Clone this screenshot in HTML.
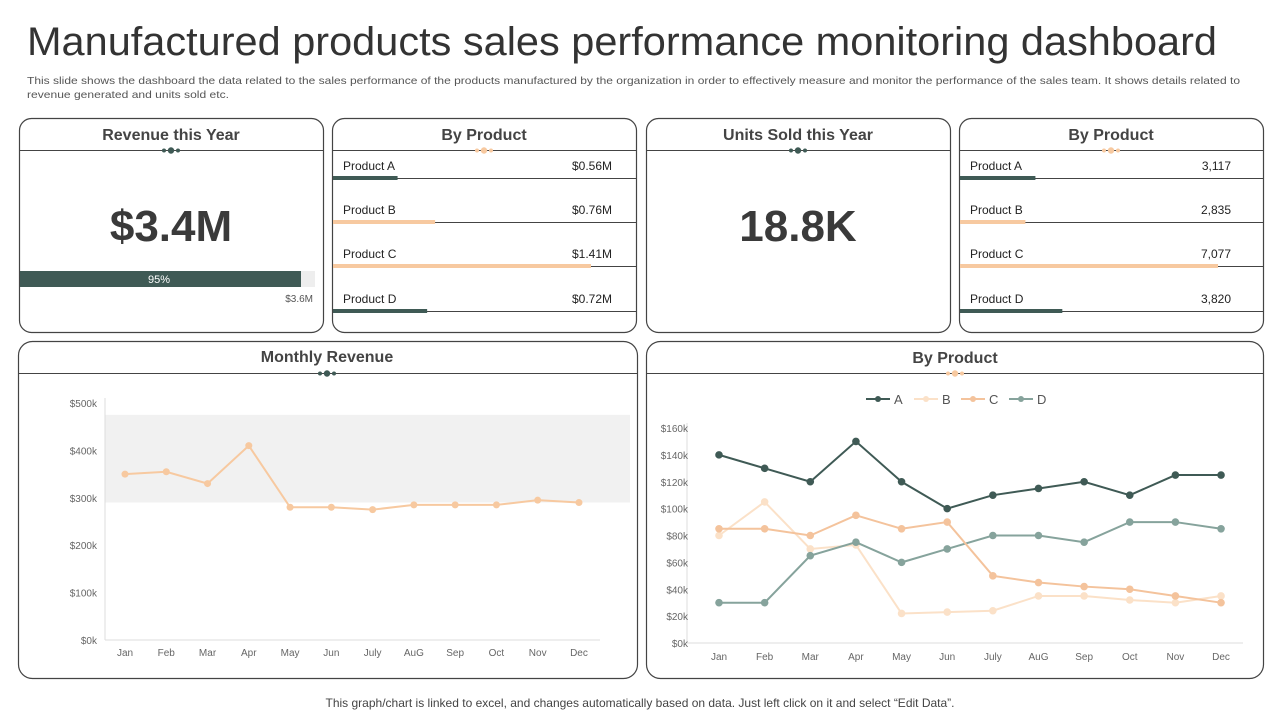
<!DOCTYPE html>
<html><head><meta charset="utf-8"><style>
html,body{margin:0;padding:0;background:#fff;}
svg{display:block;font-family:"Liberation Sans",sans-serif;}
</style></head><body>
<svg id="root" width="1280" height="720" viewBox="0 0 1280 720" xmlns="http://www.w3.org/2000/svg">
<text x="27" y="55" font-size="40" fill="#333" textLength="1190" lengthAdjust="spacingAndGlyphs" font-weight="300">Manufactured products sales performance monitoring dashboard</text>
<text x="27" y="84" font-size="10.5" fill="#555" textLength="1213" lengthAdjust="spacingAndGlyphs">This slide shows the dashboard the data related to the sales performance of the products manufactured by the organization in order to  effectively measure and monitor the performance of the sales team. It shows details related to</text>
<text x="27" y="98" font-size="10.5" fill="#555" textLength="202" lengthAdjust="spacingAndGlyphs">revenue generated and units sold etc.</text>

<g>
<rect x="19.5" y="118.5" width="304" height="214" rx="12" fill="#fff" stroke="#444" stroke-width="1.2"/>
<text x="171" y="140" font-size="16" font-weight="bold" fill="#444" text-anchor="middle">Revenue this Year</text>
<line x1="19.5" y1="150.5" x2="323.5" y2="150.5" stroke="#444"/>
<circle cx="164" cy="150.5" r="2" fill="#3f5a55"/><circle cx="171" cy="150.5" r="3.2" fill="#3f5a55"/><circle cx="178" cy="150.5" r="2" fill="#3f5a55"/>
<text x="171" y="241" font-size="44" font-weight="bold" fill="#3a3a3a" text-anchor="middle">$3.4M</text>
<rect x="20" y="271" width="295" height="16" fill="#eeeeee"/>
<rect x="20" y="271" width="281" height="16" fill="#3f5a55"/>
<text x="159" y="283" font-size="11" fill="#fff" text-anchor="middle">95%</text>
<text x="313" y="302" font-size="10" fill="#555" text-anchor="end">$3.6M</text>
</g>

<g>
<rect x="332.5" y="118.5" width="304" height="214" rx="12" fill="#fff" stroke="#444" stroke-width="1.2"/>
<text x="484" y="140" font-size="16" font-weight="bold" fill="#444" text-anchor="middle">By Product</text>
<line x1="332.5" y1="150.5" x2="636.5" y2="150.5" stroke="#444"/>
<circle cx="477" cy="150.5" r="2" fill="#f7c9a0"/><circle cx="484" cy="150.5" r="3.2" fill="#f7c9a0"/><circle cx="491" cy="150.5" r="2" fill="#f7c9a0"/>
<g id="revRows"></g>
</g>

<g>
<rect x="646.5" y="118.5" width="304" height="214" rx="12" fill="#fff" stroke="#444" stroke-width="1.2"/>
<text x="798" y="140" font-size="16" font-weight="bold" fill="#444" text-anchor="middle">Units Sold this Year</text>
<line x1="646.5" y1="150.5" x2="950.5" y2="150.5" stroke="#444"/>
<circle cx="791" cy="150.5" r="2" fill="#3f5a55"/><circle cx="798" cy="150.5" r="3.2" fill="#3f5a55"/><circle cx="805" cy="150.5" r="2" fill="#3f5a55"/>
<text x="798" y="241" font-size="44" font-weight="bold" fill="#3a3a3a" text-anchor="middle">18.8K</text>
</g>

<g>
<rect x="959.5" y="118.5" width="304" height="214" rx="12" fill="#fff" stroke="#444" stroke-width="1.2"/>
<text x="1111" y="140" font-size="16" font-weight="bold" fill="#444" text-anchor="middle">By Product</text>
<line x1="959.5" y1="150.5" x2="1263.5" y2="150.5" stroke="#444"/>
<circle cx="1104" cy="150.5" r="2" fill="#f7c9a0"/><circle cx="1111" cy="150.5" r="3.2" fill="#f7c9a0"/><circle cx="1118" cy="150.5" r="2" fill="#f7c9a0"/>
<g id="unitRows"></g>
</g>

<g>
<rect x="18.5" y="341.5" width="619" height="337" rx="14" fill="#fff" stroke="#444" stroke-width="1.2"/>
<text x="327" y="362" font-size="16" font-weight="bold" fill="#444" text-anchor="middle">Monthly Revenue</text>
<line x1="18.5" y1="373.5" x2="637.5" y2="373.5" stroke="#444"/>
<circle cx="320" cy="373.5" r="2" fill="#3f5a55"/><circle cx="327" cy="373.5" r="3.2" fill="#3f5a55"/><circle cx="334" cy="373.5" r="2" fill="#3f5a55"/>
<g id="mrChart"></g>
</g>

<g>
<rect x="646.5" y="341.5" width="617" height="337" rx="14" fill="#fff" stroke="#444" stroke-width="1.2"/>
<text x="955" y="363" font-size="16" font-weight="bold" fill="#444" text-anchor="middle">By Product</text>
<line x1="646.5" y1="373.5" x2="1263.5" y2="373.5" stroke="#444"/>
<circle cx="948" cy="373.5" r="2" fill="#f7c9a0"/><circle cx="955" cy="373.5" r="3.2" fill="#f7c9a0"/><circle cx="962" cy="373.5" r="2" fill="#f7c9a0"/>
<g id="ptChart"></g>
</g>

<text x="640" y="707" font-size="12" fill="#444" text-anchor="middle">This graph/chart is linked to excel, and changes automatically based on data. Just left click on it and select “Edit Data”.</text>
</svg>
<script>
const NS="http://www.w3.org/2000/svg";
function mk(parent,tag,attrs,txt){const e=document.createElementNS(NS,tag);for(const k in attrs)e.setAttribute(k,attrs[k]);if(txt!==undefined)e.textContent=txt;parent.appendChild(e);return e;}

const productNames=["Product A","Product B","Product C","Product D"];
const revenueValues=[0.56,0.76,1.41,0.72];
const revenueLabels=["$0.56M","$0.76M","$1.41M","$0.72M"];
const unitValues=[3117,2835,7077,3820];
const unitLabels=["3,117","2,835","7,077","3,820"];
const months=["Jan","Feb","Mar","Apr","May","Jun","July","AuG","Sep","Oct","Nov","Dec"];
const monthlyRevenue=[350,355,330,410,280,280,275,285,285,285,295,290];
const mrTicks=["$0k","$100k","$200k","$300k","$400k","$500k"];
const bandLow=290, bandHigh=475;
const seriesNames=["A","B","C","D"];
const seriesA=[140,130,120,150,120,100,110,115,120,110,125,125];
const seriesB=[80,105,70,73,22,23,24,35,35,32,30,35];
const seriesC=[85,85,80,95,85,90,50,45,42,40,35,30];
const seriesD=[30,30,65,75,60,70,80,80,75,90,90,85];
const ptTicks=["$0k","$20k","$40k","$60k","$80k","$100k","$120k","$140k","$160k"];

const colors=["#3f5a55","#f7c9a0","#f7c9a0","#3f5a55"];

function rows(g,x0,x1,vals,labels,maxBarW,labelX,valX){
  const rowY=[178,222,266,311];
  const mx=Math.max(...vals);
  vals.forEach((v,i)=>{
    const y=rowY[i];
    const t=mk(g,"text",{x:labelX,y:y-8,"font-size":12,fill:"#222"},productNames[i]);
    
    
    const vt=mk(g,"text",{x:valX,y:y-8,"font-size":12,fill:"#222","text-anchor":"end"},labels[i]);
    
    
    mk(g,"line",{x1:x0,y1:y+0.5,x2:x1,y2:y+0.5,stroke:"#444","stroke-width":1});
    const b=mk(g,"rect",{x:x0,y:y-2,width:Math.pow(v/mx,1.5)*maxBarW,height:4,fill:colors[i]});
    
    
  });
}
rows(document.getElementById("revRows"),333,637,revenueValues,revenueLabels,258,343,612);
rows(document.getElementById("unitRows"),960,1264,unitValues,unitLabels,258,970,1231);

(function(){
  const g=document.getElementById("mrChart");
  const L=105,R=600,T=403,B=640,maxV=500;
  const y=v=>B-(v/maxV)*(B-T);
  const x=i=>125+i*41.27;
  const band=mk(g,"rect",{x:L,y:y(bandHigh),width:525,height:y(bandLow)-y(bandHigh),fill:"#f1f1f1"});
  
  
  mk(g,"line",{x1:L,y1:T-5,x2:L,y2:B,stroke:"#ddd"});
  mk(g,"line",{x1:L,y1:B,x2:R,y2:B,stroke:"#ddd"});
  mrTicks.forEach((t,i)=>{const e=mk(g,"text",{x:97,y:y(i*100)+4,"font-size":10,fill:"#666","text-anchor":"end"},t);
    
    });
  months.forEach((m,i)=>{const e=mk(g,"text",{x:x(i),y:656,"font-size":10,fill:"#666","text-anchor":"middle"},m);
    
    });
  const pl=mk(g,"polyline",{points:monthlyRevenue.map((v,i)=>x(i)+","+y(v)).join(" "),fill:"none",stroke:"#f7c9a0","stroke-width":2});
  
  
  monthlyRevenue.forEach((v,i)=>{const c=mk(g,"circle",{cx:x(i),cy:y(v),r:3.5,fill:"#f7c9a0"});
    
    });
})();

(function(){
  const g=document.getElementById("ptChart");
  const L=687,R=1243,T=428,B=643,maxV=160;
  const y=v=>B-(v/maxV)*(B-T);
  const x=i=>719+i*45.64;
  mk(g,"line",{x1:L,y1:T-5,x2:L,y2:B,stroke:"#ddd"});
  mk(g,"line",{x1:L,y1:B,x2:R,y2:B,stroke:"#ddd"});
  ptTicks.forEach((t,i)=>{const e=mk(g,"text",{x:688,y:y(i*20)+4,"font-size":10,fill:"#666","text-anchor":"end"},t);
    
    });
  months.forEach((m,i)=>{const e=mk(g,"text",{x:x(i),y:660,"font-size":10,fill:"#666","text-anchor":"middle"},m);
    
    });
  const data=[seriesA,seriesB,seriesC,seriesD];
  const cols=["#3f5a55","#fbe1c8","#f4c39c","#86a39c"];
  const order=[1,3,2,0];
  order.forEach(s=>{
    const pl=mk(g,"polyline",{points:data[s].map((v,i)=>x(i)+","+y(v)).join(" "),fill:"none",stroke:cols[s],"stroke-width":2});
    
    
    data[s].forEach((v,i)=>{const c=mk(g,"circle",{cx:x(i),cy:y(v),r:3.8,fill:cols[s]});
      
      });
  });
  const lx=[866,914,961,1009];
  seriesNames.forEach((n,s)=>{
    const lg=mk(g,"g",{});
    
    
    mk(lg,"line",{x1:lx[s],y1:399,x2:lx[s]+24,y2:399,stroke:cols[s],"stroke-width":2});
    mk(lg,"circle",{cx:lx[s]+12,cy:399,r:3,fill:cols[s]});
    mk(lg,"text",{x:lx[s]+28,y:404,"font-size":13,fill:"#555"},n);
  });
})();
</script>
</body></html>
